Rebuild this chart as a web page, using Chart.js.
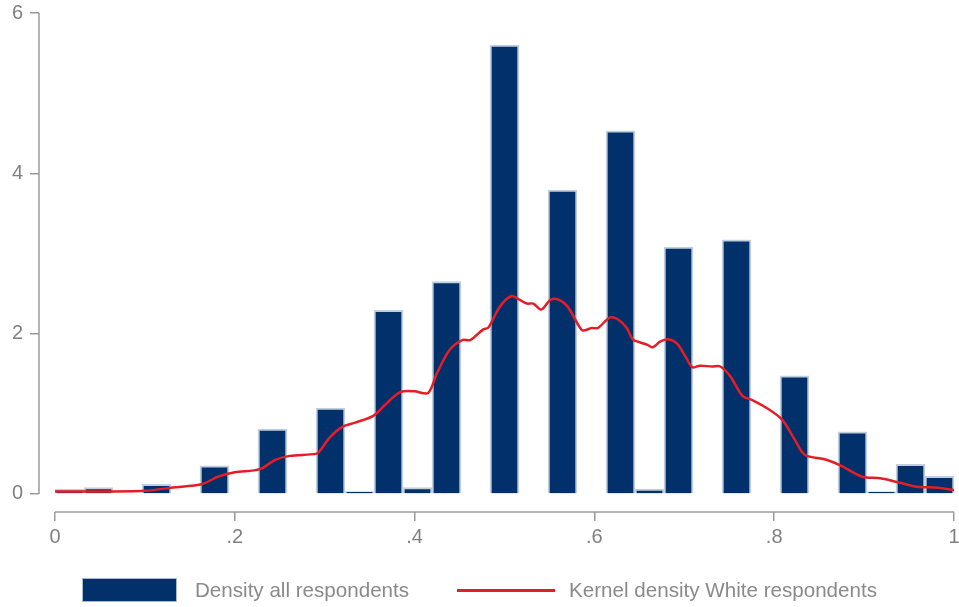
<!DOCTYPE html>
<html>
<head>
<meta charset="utf-8">
<script src="https://cdn.jsdelivr.net/npm/chart.js@4.4.1/dist/chart.umd.min.js"></script>
<style>
  html, body { margin: 0; padding: 0; background: #fff; }
  #wrap { position: relative; width: 959px; height: 607px; }
  #legend {
    position: absolute; left: 0; top: 578px; width: 100%; height: 24px;
    display: flex; justify-content: center; align-items: center; gap: 48px;
    font: 20.6px 'Liberation Sans', Arial, Helvetica, sans-serif; color: #8a8a8a;
  }
  #legend .item { display: flex; align-items: center; }
  #legend .box { width: 95px; height: 24px; box-sizing: border-box; border: 1px solid #a9b8cc; margin-right: 18px; }
  #legend .line { width: 98px; height: 3px; margin-right: 14px; }
</style>
</head>
<body>
<div id="wrap">
  <canvas id="densityChart" width="959" height="607"></canvas>
  <div id="legend"></div>
</div>
<script>
// histogram of all respondents: 31 equal-width bins on [0, 1]
const binCount = 31;
const binDensity = [0.06, 0.08, 0, 0.12, 0, 0.35, 0, 0.81, 0, 1.07, 0.03,
                    2.29, 0.08, 2.65, 0, 5.60, 0, 3.79, 0, 4.53, 0.06,
                    3.08, 0, 3.17, 0, 1.475, 0, 0.775, 0.03, 0.37, 0.22];

// kernel density estimate, White respondents
const kdeX = [0.000, 0.033, 0.100, 0.131, 0.164, 0.181, 0.200, 0.228, 0.245, 0.261,
              0.290, 0.294, 0.306, 0.320, 0.334, 0.354, 0.367, 0.384, 0.400, 0.415,
              0.425, 0.439, 0.453, 0.462, 0.476, 0.482, 0.495, 0.508, 0.517, 0.525,
              0.532, 0.541, 0.551, 0.560, 0.570, 0.582, 0.587, 0.597, 0.604, 0.617,
              0.626, 0.636, 0.643, 0.651, 0.659, 0.665, 0.673, 0.682, 0.692, 0.701,
              0.709, 0.717, 0.731, 0.740, 0.751, 0.765, 0.775, 0.792, 0.809, 0.823,
              0.834, 0.857, 0.873, 0.898, 0.918, 0.940, 0.959, 0.979, 1.000];
const kdeY = [0.03, 0.03, 0.04, 0.08, 0.125, 0.215, 0.27, 0.31, 0.425, 0.475,
              0.50, 0.53, 0.71, 0.84, 0.89, 0.975, 1.11, 1.27, 1.28, 1.26,
              1.51, 1.80, 1.92, 1.92, 2.05, 2.075, 2.34, 2.47, 2.42, 2.375,
              2.375, 2.30, 2.42, 2.425, 2.34, 2.11, 2.04, 2.07, 2.07, 2.20,
              2.18, 2.07, 1.925, 1.89, 1.86, 1.83, 1.90, 1.93, 1.875, 1.72,
              1.58, 1.60, 1.59, 1.59, 1.47, 1.22, 1.175, 1.07, 0.925, 0.675,
              0.49, 0.43, 0.36, 0.215, 0.195, 0.14, 0.09, 0.08, 0.05];

const xTicks = [0, 0.2, 0.4, 0.6, 0.8, 1];
const yTicks = [0, 2, 4, 6];

const seriesLabels = ['Density all respondents', 'Kernel density White respondents'];

const navy = '#01306a';
const red = '#e41e26';
const axisGrey = '#9a9a9a';
const textGrey = '#808080';
const fontFamily = "'Liberation Sans', Arial, Helvetica, sans-serif";

const binWidth = 1 / binCount;
const histPoints = binDensity.map((v, i) => ({ x: (i + 0.5) * binWidth, y: v }));
const kdePoints = kdeX.map((x, i) => ({ x: x, y: kdeY[i] }));

const fmtTick = v => (v === 0 || v === 1) ? String(v) : String(v).replace(/^0/, '');

// axis lines only span the data range, leaving a gap at the corner
const axisLines = {
  id: 'axisLines',
  afterDraw(chart) {
    const { ctx, scales: { x, y } } = chart;
    ctx.save();
    ctx.strokeStyle = axisGrey;
    ctx.lineWidth = 1.5;
    ctx.beginPath();
    ctx.moveTo(y.right, y.getPixelForValue(yTicks[yTicks.length - 1]));
    ctx.lineTo(y.right, y.getPixelForValue(yTicks[0]));
    ctx.moveTo(x.getPixelForValue(xTicks[0]), x.top);
    ctx.lineTo(x.getPixelForValue(xTicks[xTicks.length - 1]), x.top);
    ctx.stroke();
    ctx.restore();
  }
};

const chart = new Chart(document.getElementById('densityChart'), {
  type: 'bar',
  data: {
    datasets: [{
      type: 'line',
      label: seriesLabels[1],
      data: kdePoints,
      borderColor: red,
      borderWidth: 2.5,
      pointRadius: 0,
      tension: 0.3,
      order: 0
    }, {
      type: 'bar',
      label: seriesLabels[0],
      data: histPoints,
      backgroundColor: navy,
      borderColor: '#c3cedd',
      borderWidth: 2,
      barPercentage: 1,
      categoryPercentage: 1,
      order: 1
    }]
  },
  options: {
    responsive: false,
    animation: false,
    events: [],
    layout: { padding: { top: 13, right: 5, left: 0, bottom: 0 } },
    plugins: { legend: { display: false }, tooltip: { enabled: false } },
    scales: {
      x: {
        type: 'linear',
        min: -0.0178,
        max: 1,
        offset: false,
        afterBuildTicks: s => { s.ticks = xTicks.map(v => ({ value: v })); },
        afterFit: s => { s.height = 95; s.paddingLeft = 0; s.paddingRight = 0; },
        border: { display: false },
        grid: { offset: false, drawOnChartArea: false, drawTicks: true, tickLength: 9, color: axisGrey, lineWidth: 1.5 },
        ticks: { color: textGrey, font: { size: 20, family: fontFamily }, padding: 4,
                 maxRotation: 0, autoSkip: false, callback: fmtTick }
      },
      y: {
        min: -0.225,
        max: 6,
        afterBuildTicks: s => { s.ticks = yTicks.map(v => ({ value: v })); },
        afterFit: s => { s.width = 39; s.paddingTop = 0; s.paddingBottom = 0; },
        border: { display: false },
        grid: { offset: false, drawOnChartArea: false, drawTicks: true, tickLength: 9, color: axisGrey, lineWidth: 1.5 },
        ticks: { color: textGrey, font: { size: 20, family: fontFamily }, padding: 7, callback: fmtTick }
      }
    }
  },
  plugins: [axisLines]
});

// legend below the plot, built from the datasets
const legendEl = document.getElementById('legend');
const bars = chart.data.datasets[1];
const line = chart.data.datasets[0];
legendEl.innerHTML =
  `<div class="item"><span class="box" style="background:${bars.backgroundColor}"></span>${bars.label}</div>` +
  `<div class="item"><span class="line" style="background:${line.borderColor}"></span>${line.label}</div>`;
</script>
</body>
</html>
